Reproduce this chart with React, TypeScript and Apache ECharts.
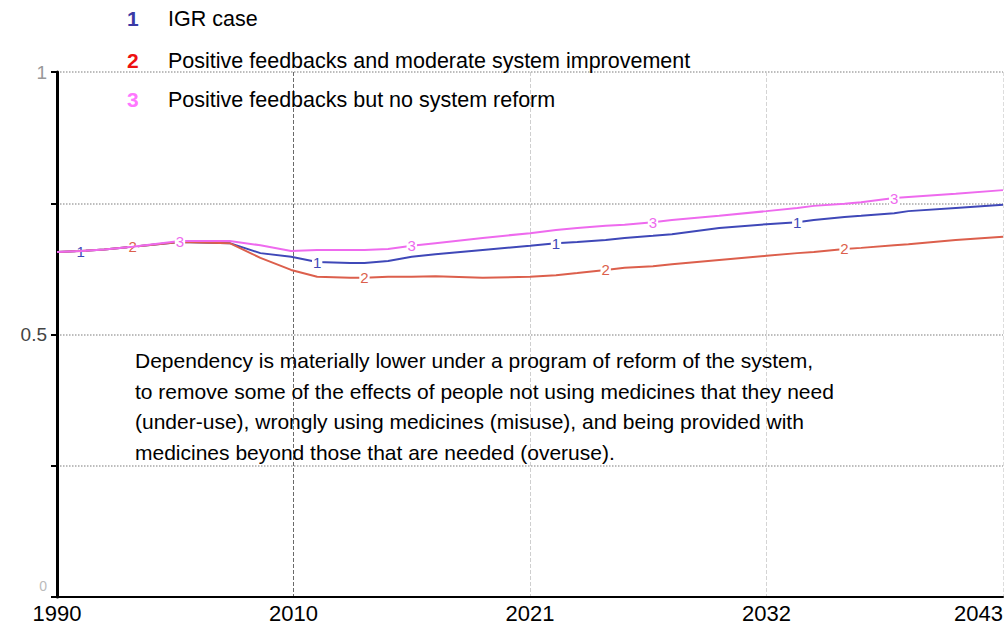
import React, { useEffect, useRef } from "react";
import * as echarts from "echarts";

// Model time axis: every 10 units is one labelled period.
const YEAR_LABELS = ["1990", "2010", "2021", "2032", "2043"];

const T = [
  0, 1, 2, 3.2, 5.2, 7.3, 8.6, 9.9, 11, 12.4, 13, 14, 15, 16, 18, 20, 21.1, 22,
  23.2, 24, 25.2, 26, 28, 30, 31.3, 32, 33.3, 34, 35.4, 36, 38, 40,
];

// 1: IGR case
const S1 = [
  0.657, 0.659, 0.662, 0.667, 0.676, 0.674, 0.655, 0.648, 0.638, 0.636, 0.636,
  0.64, 0.648, 0.653, 0.661, 0.669, 0.674, 0.676, 0.68, 0.684, 0.688, 0.691,
  0.703, 0.71, 0.714, 0.718, 0.724, 0.726, 0.731, 0.735, 0.741, 0.747,
];
// 2: Positive feedbacks and moderate system improvement
const S2 = [
  0.657, 0.659, 0.662, 0.667, 0.676, 0.674, 0.646, 0.623, 0.61, 0.608, 0.608,
  0.61, 0.61, 0.611, 0.608, 0.61, 0.613, 0.617, 0.623, 0.627, 0.63, 0.634,
  0.642, 0.65, 0.655, 0.657, 0.663, 0.665, 0.67, 0.672, 0.68, 0.686,
];
// 3: Positive feedbacks but no system reform
const S3 = [
  0.657, 0.659, 0.662, 0.667, 0.678, 0.678, 0.67, 0.659, 0.661, 0.661, 0.661,
  0.663, 0.669, 0.674, 0.684, 0.693, 0.699, 0.703, 0.707, 0.709, 0.714, 0.718,
  0.726, 0.735, 0.741, 0.745, 0.749, 0.752, 0.76, 0.762, 0.768, 0.775,
];

// Indices in T where each run's number is written on its line
const MARKS1 = [1, 8, 16, 24];
const MARKS2 = [3, 10, 18, 26];
const MARKS3 = [4, 12, 20, 28];

const NAMES = [
  "IGR case",
  "Positive feedbacks and moderate system improvement",
  "Positive feedbacks but no system reform",
];
const NUMBERS = ["1", "2", "3"];
const LINE_COLORS = ["#3f48b8", "#dc5f4c", "#ee6aee"];
const KEY_COLORS = ["#3a3aa6", "#ee1111", "#ff77ff"];

const NOTE = [
  "Dependency is materially lower under a program of reform of the system,",
  "to remove some of the effects of people not using medicines that they need",
  "(under-use), wrongly using medicines (misuse), and being provided with",
  "medicines beyond those that are needed (overuse).",
];

function buildSeries(
  values: number[],
  marks: number[],
  idx: number
): echarts.SeriesOption {
  return {
    type: "line",
    name: NAMES[idx],
    data: T.map((t, i) => {
      const item: any = { value: [t, values[i]] };
      if (marks.includes(i)) {
        item.label = {
          show: true,
          formatter: NUMBERS[idx],
          position: "inside",
          color: LINE_COLORS[idx],
          fontSize: 15,
          fontFamily: "Liberation Sans",
          backgroundColor: "#fff",
          padding: [0, 1],
        };
      } else {
        item.symbol = "none";
      }
      return item;
    }),
    symbol: "circle",
    symbolSize: 1,
    showSymbol: true,
    itemStyle: { color: "rgba(0,0,0,0)" },
    lineStyle: { color: LINE_COLORS[idx], width: 2 },
    z: 3 + idx,
  };
}

export default function App() {
  const ref = useRef<HTMLDivElement>(null);

  useEffect(() => {
    if (!ref.current) return;
    const chart = echarts.init(ref.current, undefined, { renderer: "svg" });

    const keyTexts: any[] = [];
    const keyY = [20, 62, 101];
    NAMES.forEach((name, i) => {
      keyTexts.push({
        type: "text",
        left: 127,
        top: keyY[i] - 12,
        style: {
          text: NUMBERS[i],
          fill: KEY_COLORS[i],
          font: "bold 21px 'Liberation Sans'",
        },
        z: 10,
      });
      keyTexts.push({
        type: "text",
        left: 168,
        top: keyY[i] - 12,
        style: {
          text: name,
          fill: "#000",
          font: "21.5px 'Liberation Sans'",
        },
        z: 10,
      });
    });

    const noteTexts = NOTE.map((line, i) => ({
      type: "text",
      left: 135,
      top: 350 + i * 30.5,
      style: { text: line, fill: "#000", font: "21px 'Liberation Sans'" },
      z: 10,
    }));

    chart.setOption({
      animation: false,
      backgroundColor: "#fff",
      grid: { left: 57, right: 4, top: 72, bottom: 30 },
      xAxis: {
        type: "value",
        min: 0,
        max: 40,
        interval: 10,
        axisLine: { show: true, lineStyle: { color: "#000", width: 2 } },
        axisTick: { show: false },
        axisLabel: {
          formatter: (v: number) => YEAR_LABELS[Math.round(v / 10)] ?? "",
          color: "#000",
          fontSize: 22,
          fontFamily: "Liberation Sans",
          margin: 5,
          alignMaxLabel: "right",
        },
        splitLine: {
          show: true,
          lineStyle: {
            type: "dashed",
            width: 1,
            color: ["rgba(0,0,0,0)", "#6a6a6a", "#cfcfcf", "#d4d4d4", "#dddddd"],
          },
        },
      },
      yAxis: {
        type: "value",
        min: 0,
        max: 1,
        interval: 0.25,
        axisLine: { show: true, lineStyle: { color: "#000", width: 3 } },
        axisTick: { show: true, length: 6, lineStyle: { color: "#000", width: 2 } },
        axisLabel: {
          formatter: (v: number) =>
            v === 0.5 ? "{m|0.5}" : v === 1 ? "{f|1}" : v === 0 ? "{z|0}" : "",
          rich: {
            m: { color: "#444", fontSize: 19, fontFamily: "Liberation Sans" },
            f: { color: "#999", fontSize: 19, fontFamily: "Liberation Sans" },
            z: {
              color: "#bbb",
              fontSize: 14,
              fontFamily: "Liberation Sans",
              padding: [0, 0, 22, 0],
            },
          },
          margin: 10,
        },
        splitLine: {
          show: true,
          lineStyle: {
            type: "dotted",
            width: 1.5,
            color: ["rgba(0,0,0,0)", "#a8a8a8", "#a8a8a8", "#a8a8a8", "#a8a8a8"],
          },
        },
      },
      series: [
        buildSeries(S1, MARKS1, 0),
        buildSeries(S2, MARKS2, 1),
        buildSeries(S3, MARKS3, 2),
      ],
      graphic: [...keyTexts, ...noteTexts],
    });

    return () => chart.dispose();
  }, []);

  return (
    <div
      ref={ref}
      style={{ position: "fixed", left: 0, top: 0, width: 1007, height: 627 }}
    />
  );
}
